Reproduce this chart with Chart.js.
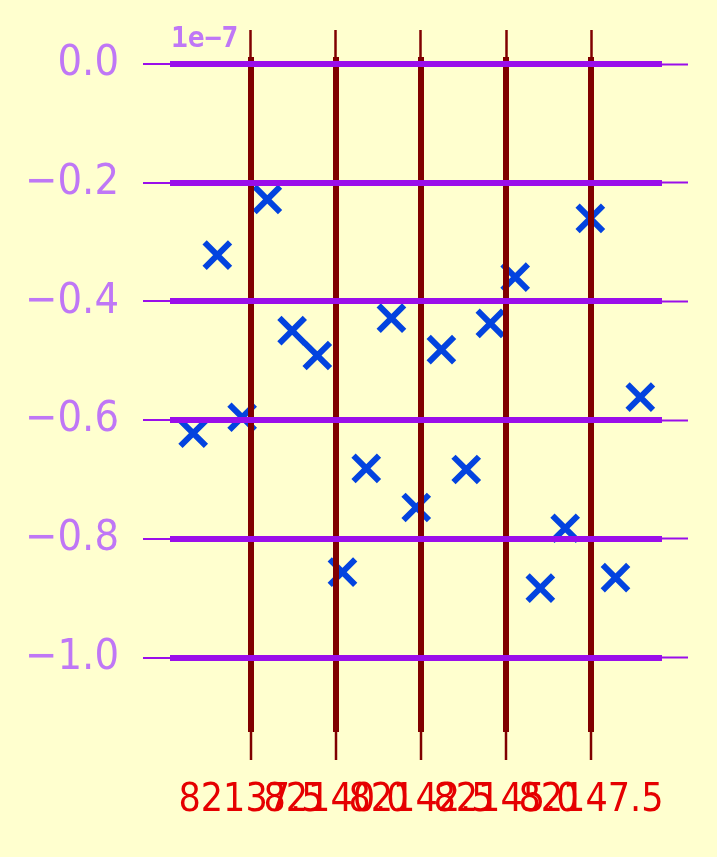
<!DOCTYPE html>
<html lang="en">
<head>
<meta charset="UTF-8">
<title>Scatter 1e-7</title>
<script src="https://cdn.jsdelivr.net/npm/chart.js"></script>
<style>
  body { margin: 0; background: #ffffcf; }
  canvas { display: block; }
</style>
</head>
<body>
<canvas id="scatterChart" width="717" height="857"></canvas>
<script>
// values
const xValues = [82135.80, 82136.51, 82137.24, 82137.98, 82138.71, 82139.45, 82140.19,
  82140.89, 82141.63, 82142.36, 82143.10, 82143.83, 82144.54, 82145.27, 82146.01,
  82146.74, 82147.48, 82148.22, 82148.95];
const yValues = [-6.22e-8, -3.22e-8, -5.95e-8, -2.28e-8, -4.49e-8, -4.91e-8, -8.56e-8,
  -6.81e-8, -4.28e-8, -7.47e-8, -4.81e-8, -6.83e-8, -4.37e-8, -3.59e-8, -8.83e-8,
  -7.82e-8, -2.60e-8, -8.65e-8, -5.61e-8];
const xTicks = [82137.5, 82140.0, 82142.5, 82145.0, 82147.5];
const yTicks = [0, -2e-8, -4e-8, -6e-8, -8e-8, -1e-7];

const condensed = "'DejaVu Sans Condensed', 'DejaVu Sans', sans-serif";

function setTicks(list) {
  return scale => { scale.ticks = list.map(v => ({ value: v })); };
}

function yLabel(v) {
  let s = (v / 1e-7).toFixed(1);
  if (s === '-0.0') s = '0.0';
  return s.replace('-', '\u2212');
}

// background + offset text
const decor = {
  id: 'decor',
  beforeDraw(chart) {
    const ctx = chart.ctx;
    ctx.save();
    ctx.fillStyle = '#ffffcf';
    ctx.fillRect(0, 0, chart.width, chart.height);
    ctx.restore();
  },
  afterDraw(chart) {
    const ctx = chart.ctx;
    ctx.save();
    ctx.fillStyle = '#bf77f6';
    ctx.font = "bold 28px 'DejaVu Sans Mono', monospace";
    ctx.textBaseline = 'alphabetic';
    ctx.fillText('1e\u22127', 171, 47);
    ctx.restore();
  }
};

new Chart(document.getElementById('scatterChart'), {
  type: 'scatter',
  data: {
    datasets: [{
      data: xValues.map((x, i) => ({ x: x, y: yValues[i] })),
      pointStyle: 'crossRot',
      radius: 18,
      hoverRadius: 18,
      borderWidth: 6,
      borderColor: '#0343df',
      backgroundColor: '#0343df'
    }]
  },
  options: {
    responsive: false,
    animation: false,
    events: [],
    layout: { padding: 0 },
    plugins: { legend: { display: false }, tooltip: { enabled: false } },
    scales: {
      x: {
        type: 'linear',
        position: 'bottom',
        min: 82135.118,
        max: 82149.588,
        afterBuildTicks: setTicks(xTicks),
        afterFit: s => { s.height = 125; },
        border: { display: false },
        grid: { color: '#800000', lineWidth: 6, tickColor: '#800000', tickWidth: 2.5, tickLength: 28, z: 1 },
        ticks: {
          autoSkip: false, maxRotation: 0, minRotation: 0,
          color: '#e50000', font: { family: condensed, size: 39 }, padding: 17,
          callback: v => v.toFixed(1)
        }
      },
      x2: {
        type: 'linear',
        position: 'top',
        min: 82135.118,
        max: 82149.588,
        afterBuildTicks: setTicks(xTicks),
        afterFit: s => { s.height = 57; },
        border: { display: false },
        grid: { drawOnChartArea: false, tickColor: '#800000', tickWidth: 2.5, tickLength: 27, z: 1 },
        ticks: { display: false }
      },
      y: {
        type: 'linear',
        position: 'left',
        min: -1.1252e-7,
        max: 0.0118e-7,
        afterBuildTicks: setTicks(yTicks),
        afterFit: s => { s.width = 170; },
        border: { display: false },
        grid: { color: '#9a0eea', lineWidth: 6, tickColor: '#9a0eea', tickWidth: 2, tickLength: 27, z: 2 },
        ticks: { color: '#bf77f6', font: { family: condensed, size: 43 }, padding: 24, callback: yLabel }
      },
      y2: {
        type: 'linear',
        position: 'right',
        min: -1.1252e-7,
        max: 0.0118e-7,
        afterBuildTicks: setTicks(yTicks),
        afterFit: s => { s.width = 55; },
        border: { display: false },
        grid: { drawOnChartArea: false, tickColor: '#9a0eea', tickWidth: 2, tickLength: 26, z: 2 },
        ticks: { display: false }
      }
    }
  },
  plugins: [decor]
});
</script>
</body>
</html>
